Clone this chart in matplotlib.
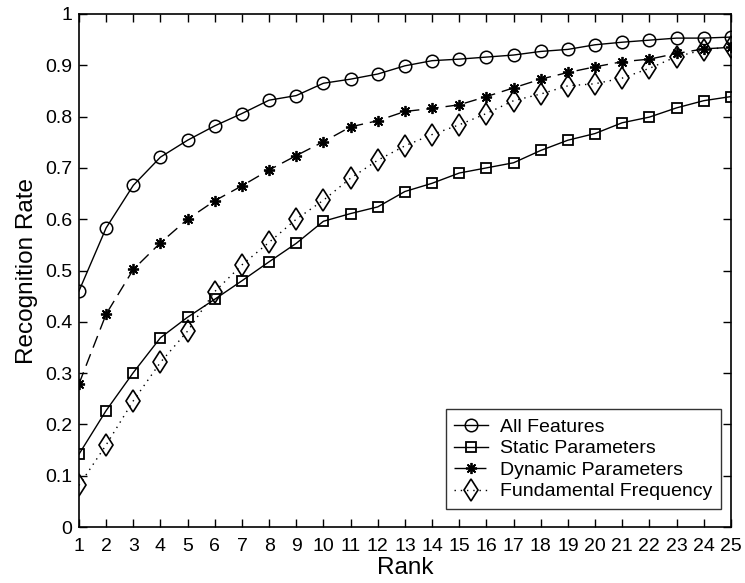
# Recognition rate vs. rank for the four feature sets
import numpy as np
import matplotlib
matplotlib.use('Agg')
import matplotlib.pyplot as plt

plt.rcParams['font.family'] = ['Liberation Sans', 'DejaVu Sans']

ranks = list(range(1, 26))

all_features = [0.460, 0.583, 0.666, 0.721, 0.754, 0.782, 0.806, 0.832, 0.841, 0.865,
                0.873, 0.883, 0.899, 0.909, 0.912, 0.916, 0.920, 0.927, 0.931, 0.940,
                0.945, 0.949, 0.953, 0.953, 0.955]
static_params = [0.142, 0.227, 0.301, 0.369, 0.409, 0.444, 0.480, 0.517, 0.553, 0.596,
                 0.611, 0.624, 0.654, 0.670, 0.690, 0.700, 0.710, 0.734, 0.754, 0.767,
                 0.788, 0.799, 0.817, 0.831, 0.839]
dynamic_params = [0.279, 0.415, 0.502, 0.554, 0.600, 0.636, 0.665, 0.696, 0.724, 0.751,
                  0.780, 0.792, 0.810, 0.816, 0.823, 0.839, 0.856, 0.873, 0.886, 0.897,
                  0.907, 0.912, 0.923, 0.932, 0.935]
fundamental_freq = [0.081, 0.160, 0.246, 0.321, 0.382, 0.459, 0.511, 0.555, 0.600, 0.637,
                    0.680, 0.715, 0.743, 0.765, 0.784, 0.806, 0.831, 0.844, 0.860, 0.864,
                    0.875, 0.894, 0.917, 0.930, 0.936]

labels = ['All Features', 'Static Parameters', 'Dynamic Parameters', 'Fundamental Frequency']

fig = plt.figure(figsize=(7.45, 5.83), dpi=100)
ax = fig.add_axes([0.106, 0.096, 0.875, 0.880])

common = dict(color='black', markerfacecolor='none', markeredgecolor='black', linewidth=1.0)
ax.plot(ranks, all_features, linestyle='-', marker='o', markersize=9, markeredgewidth=1.1,
        label=labels[0], **common)
ax.plot(ranks, static_params, linestyle='-', marker='s', markersize=7.3, markeredgewidth=1.3,
        label=labels[1], **common)
ax.plot(ranks, dynamic_params, linestyle=(0, (9, 5)), marker=(8, 2, 0), markersize=8,
        markeredgewidth=1.3, label=labels[2], **common)
ax.plot(ranks, fundamental_freq, linestyle=(0, (1, 3.5)), marker='d', markersize=11.5,
        markeredgewidth=1.2, label=labels[3], **common)

ax.set_xlim(1, 25)
ax.set_ylim(0, 1)
ax.set_xticks(ranks)
yticks = np.round(np.arange(0, 1.01, 0.1), 1)
ax.set_yticks(yticks)
ax.set_yticklabels(['0'] + [f'{v:g}' for v in yticks[1:-1]] + ['1'])
ax.tick_params(direction='in', top=True, right=True, length=6, width=1,
               labelsize=14)
ax.tick_params(axis='x', pad=8)
ax.tick_params(axis='y', pad=5)
for s in ax.spines.values():
    s.set_linewidth(1.2)

ax.set_xlabel('Rank', fontsize=17.5, labelpad=1)
ax.set_ylabel('Recognition Rate', fontsize=17.5, labelpad=5)

leg = ax.legend(loc='lower right', fontsize=14, frameon=True, fancybox=False,
                edgecolor='black', handlelength=1.75, handletextpad=0.6,
                borderpad=0.45, labelspacing=0.2, borderaxespad=0,
                bbox_to_anchor=(0.985, 0.035))
leg.get_frame().set_linewidth(1.0)

fig.savefig('out.png', dpi=100)
